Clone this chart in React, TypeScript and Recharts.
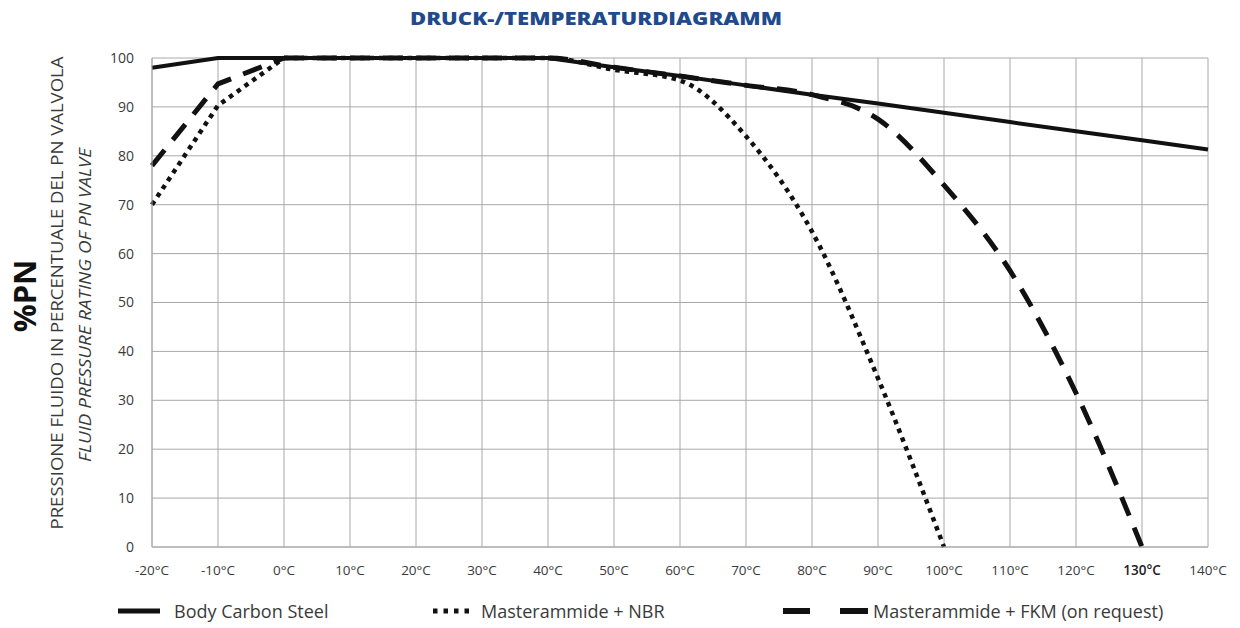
import React from 'react'
import { CartesianGrid, Line, LineChart, XAxis, YAxis } from 'recharts'

const temps = [-20, -10, 0, 10, 20, 30, 40, 50, 60, 70, 80, 90, 100, 110, 120, 130, 140]
const steelPN = [98, 100, 100, 100, 100, 100, 100, 98.1, 96.3, 94.4, 92.5, 90.7, 88.8, 86.9, 85.0, 83.2, 81.3]
const nbrPN = [70, 90.3, 100, 100, 100, 100, 100, 97.6, 95.4, 84, 64.5, 34.5, 0, null, null, null, null]
const fkmPN = [78, 94.7, 100, 100, 100, 100, 100, 98.1, 96.3, 94.4, 92.5, 87.5, 74, 56.5, 31.5, 0, null]
const yTicks = [0, 10, 20, 30, 40, 50, 60, 70, 80, 90, 100]

const seriesNames = {
  steel: 'Body Carbon Steel',
  nbr: 'Masterammide + NBR',
  fkm: 'Masterammide + FKM (on request)',
}

// cold branch (up to 0°C) is drawn straight, warm branch smoothed
const data = temps.map((t, i) => ({
  temp: t,
  steel: steelPN[i],
  nbrCold: t <= 0 ? nbrPN[i] : null,
  nbrWarm: t >= 0 ? nbrPN[i] : null,
  fkmCold: t <= 0 ? fkmPN[i] : null,
  fkmWarm: t >= 0 ? fkmPN[i] : null,
}))

const font = '"Open Sans", sans-serif'
const textColor = '#3a3a3a'

function XTick(props: any) {
  const { x, y, payload } = props
  const strong = payload.value === 130
  return (
    <text x={x} y={y} dy={10} textAnchor="middle" fontFamily={font} fontSize={13.5} fill={strong ? '#222' : textColor} fontWeight={strong ? 600 : 400}>
      {`${payload.value}°C`}
    </text>
  )
}

function LegendRow() {
  const label = { position: 'absolute' as const, top: 0, fontFamily: font, fontSize: 18, color: textColor, whiteSpace: 'nowrap' as const, lineHeight: '24px' }
  return (
    <div style={{ position: 'absolute', left: 0, top: 599, width: 1240, height: 24 }}>
      <svg width={1240} height={24} style={{ position: 'absolute', left: 0, top: 0 }}>
        <line x1={118} x2={160} y1={12} y2={12} stroke="#111" strokeWidth={5} />
        <line x1={433} x2={470} y1={12} y2={12} stroke="#111" strokeWidth={5} strokeDasharray="4.5 6" />
        <line x1={783} x2={810} y1={12} y2={12} stroke="#111" strokeWidth={6} />
        <line x1={840} x2={868} y1={12} y2={12} stroke="#111" strokeWidth={6} />
      </svg>
      <span style={{ ...label, left: 174 }}>{seriesNames.steel}</span>
      <span style={{ ...label, left: 481 }}>{seriesNames.nbr}</span>
      <span style={{ ...label, left: 873 }}>{seriesNames.fkm}</span>
    </div>
  )
}

const dotted = { stroke: '#111', strokeWidth: 4.5, strokeDasharray: '4.5 5', dot: false, isAnimationActive: false, connectNulls: false }
const dashed = { stroke: '#111', strokeWidth: 5, strokeDasharray: '20 13', dot: false, isAnimationActive: false, connectNulls: false }

export default function App() {
  return (
    <div style={{ position: 'absolute', left: 0, top: 0, width: 1240, height: 628, background: '#fff' }}>
      <LineChart width={1240} height={628} data={data} margin={{ top: 58, right: 32, left: 0, bottom: 51 }}>
        <CartesianGrid stroke="#a8a8a8" strokeWidth={1} />
        <XAxis
          dataKey="temp"
          type="number"
          domain={[-20, 140]}
          ticks={temps}
          tick={<XTick />}
          tickSize={0}
          tickMargin={18}
          height={30}
          axisLine={{ stroke: '#a8a8a8' }}
          interval={0}
        />
        <YAxis
          type="number"
          domain={[0, 100]}
          ticks={yTicks}
          width={152}
          tickSize={0}
          tickMargin={18}
          axisLine={{ stroke: '#a8a8a8' }}
          tick={{ fill: textColor, fontSize: 14, fontFamily: font }}
          interval={0}
        />
        <Line type="linear" dataKey="nbrCold" name={seriesNames.nbr} {...dotted} />
        <Line type="monotone" dataKey="nbrWarm" name={seriesNames.nbr} {...dotted} />
        <Line type="linear" dataKey="fkmCold" name={seriesNames.fkm} {...dashed} />
        <Line type="monotone" dataKey="fkmWarm" name={seriesNames.fkm} {...dashed} />
        <Line dataKey="steel" name={seriesNames.steel} stroke="#111" strokeWidth={4} dot={false} isAnimationActive={false} />
      </LineChart>
      <LegendRow />
      <svg width={1240} height={628} style={{ position: 'absolute', left: 0, top: 0, pointerEvents: 'none' }}>
        <text x={596} y={25} textAnchor="middle" fontFamily={font} fontWeight={800} fontSize={18} fill="#1f4a8c" textLength={372} lengthAdjust="spacingAndGlyphs">
          DRUCK-/TEMPERATURDIAGRAMM
        </text>
        <text transform="translate(36 296) rotate(-90)" textAnchor="middle" fontFamily={font} fontWeight={700} fontSize={31} fill="#111">
          %PN
        </text>
        <text transform="translate(63 293) rotate(-90)" textAnchor="middle" fontFamily={font} fontSize={17} fill={textColor} textLength={473} lengthAdjust="spacingAndGlyphs">
          PRESSIONE FLUIDO IN PERCENTUALE DEL PN VALVOLA
        </text>
        <text transform="translate(91 305) rotate(-90)" textAnchor="middle" fontFamily={font} fontStyle="italic" fontSize={17} fill={textColor} textLength={314} lengthAdjust="spacingAndGlyphs">
          FLUID PRESSURE RATING OF PN VALVE
        </text>
      </svg>
    </div>
  )
}
